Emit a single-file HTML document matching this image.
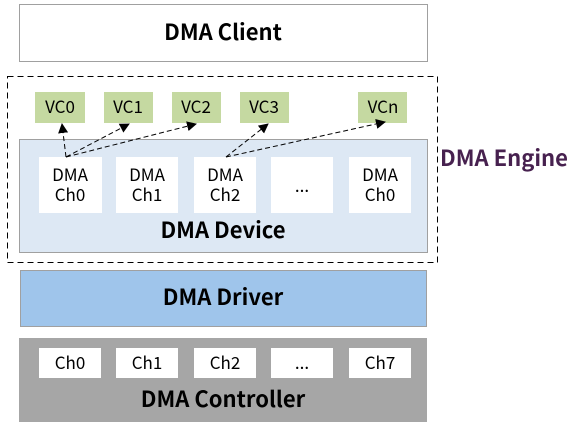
<!DOCTYPE html>
<html><head><meta charset="utf-8"><style>
body{margin:0;width:573px;height:428px;background:#fff;overflow:hidden}
svg text{font-family:"Noto Sans CJK SC","Liberation Sans",sans-serif}
</style></head><body>
<svg width="573" height="428" viewBox="0 0 573 428" xmlns="http://www.w3.org/2000/svg">
<defs><marker id="a" markerWidth="10" markerHeight="10" refX="9" refY="5" orient="auto" markerUnits="userSpaceOnUse"><path d="M0,0 L10,5 L0,10 z" fill="#000"/></marker></defs>
<rect x="19.5" y="4.5" width="408" height="57" fill="#fff" stroke="#a0a0a0"/>
<text x="223" y="40" font-size="22" font-weight="bold" text-anchor="middle">DMA Client</text>
<rect x="7.5" y="76.5" width="430" height="186" fill="none" stroke="#000" stroke-dasharray="6,4"/>
<g fill="#c5d9a1"><rect x="35" y="92" width="50" height="31"/><rect x="104" y="92" width="49" height="31"/><rect x="172" y="92" width="49" height="31"/><rect x="240" y="92" width="49" height="31"/><rect x="358" y="92" width="49" height="31"/></g>
<g font-size="17" text-anchor="middle"><text x="60" y="113">VC0</text><text x="128" y="113">VC1</text><text x="196" y="113">VC2</text><text x="264" y="113">VC3</text><text x="383" y="113">VCn</text></g>
<rect x="19.5" y="139.5" width="408" height="113" fill="#dde8f4" stroke="#a0a0a0"/>
<g fill="#fff"><rect x="39" y="157" width="63" height="56"/><rect x="116" y="157" width="62" height="56"/><rect x="194" y="157" width="62" height="56"/><rect x="271" y="157" width="62" height="56"/><rect x="349" y="157" width="62" height="56"/></g>
<g font-size="17" text-anchor="middle"><text x="70" y="181">DMA</text><text x="70" y="201">Ch0</text><text x="147" y="181">DMA</text><text x="147" y="201">Ch1</text><text x="225" y="181">DMA</text><text x="225" y="201">Ch2</text><text x="302" y="192">...</text><text x="380" y="181">DMA</text><text x="380" y="201">Ch0</text></g>
<text x="223" y="238" font-size="22" font-weight="bold" text-anchor="middle">DMA Device</text>
<g stroke="#000" stroke-dasharray="5,3" fill="none" marker-end="url(#a)"><line x1="66" y1="157" x2="62" y2="124"/><line x1="66" y1="157" x2="129" y2="124"/><line x1="66" y1="157" x2="196" y2="124"/><line x1="226" y1="157" x2="268" y2="124"/><line x1="226" y1="157" x2="385" y2="122"/></g>
<text x="440" y="166" font-size="22" font-weight="bold" fill="#47214f">DMA Engine</text>
<rect x="20.5" y="270.5" width="406" height="56" fill="#9fc5eb" stroke="#a0a0a0"/>
<text x="223" y="305" font-size="22" font-weight="bold" text-anchor="middle">DMA Driver</text>
<rect x="19" y="338" width="408" height="84" fill="#a6a6a6"/>
<g fill="#fff"><rect x="39" y="348" width="62" height="30"/><rect x="116" y="348" width="62" height="30"/><rect x="194" y="348" width="62" height="30"/><rect x="271" y="348" width="62" height="30"/><rect x="349" y="348" width="62" height="30"/></g>
<g font-size="17" text-anchor="middle"><text x="70" y="369">Ch0</text><text x="147" y="369">Ch1</text><text x="225" y="369">Ch2</text><text x="302" y="369">...</text><text x="380" y="369">Ch7</text></g>
<text x="223" y="407" font-size="22" font-weight="bold" text-anchor="middle">DMA Controller</text>
</svg>
</body></html>
